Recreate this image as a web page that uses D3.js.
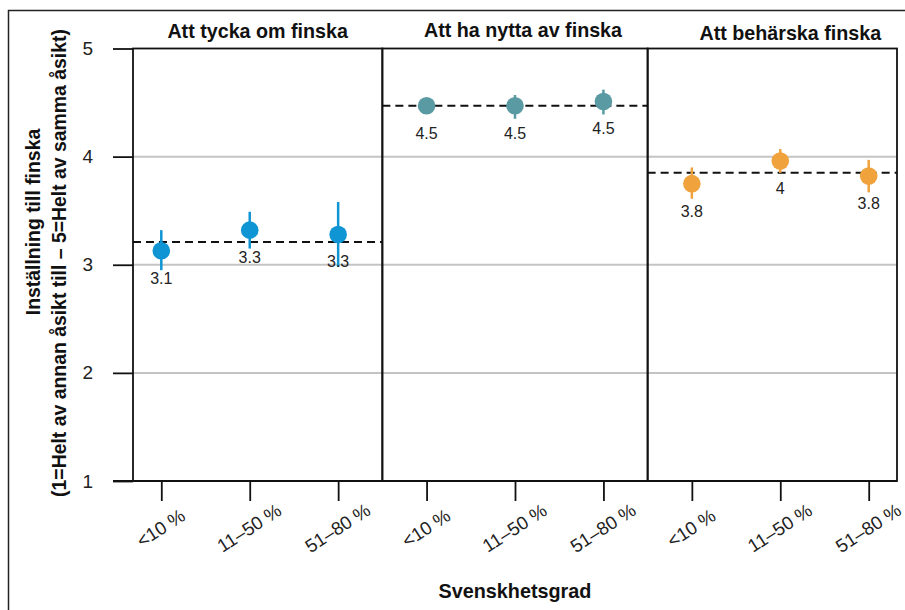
<!DOCTYPE html>
<html>
<head>
<meta charset="utf-8">
<script src="https://cdn.jsdelivr.net/npm/d3@7"></script>
<style>
  html, body { margin: 0; padding: 0; background: #fff; }
  svg { display: block; font-family: "Liberation Sans", Arial, sans-serif; }
</style>
</head>
<body>
<svg id="chart" width="905" height="610"></svg>
<script>
// Facet titles (one per panel) and the x categories repeated in each panel
const panels = ["Att tycka om finska", "Att ha nytta av finska", "Att behärska finska"];
const categories = ["<10 %", "11–50 %", "51–80 %"];

// Means with confidence intervals, one array per panel
const tyckaMean  = [3.13, 3.32, 3.28];
const tyckaLow   = [2.95, 3.15, 2.98];
const tyckaHigh  = [3.32, 3.49, 3.58];

const nyttaMean  = [4.47, 4.47, 4.51];
const nyttaLow   = [4.40, 4.35, 4.39];
const nyttaHigh  = [4.54, 4.57, 4.62];

const beharMean  = [3.75, 3.96, 3.82];
const beharLow   = [3.61, 3.85, 3.67];
const beharHigh  = [3.90, 4.07, 3.97];

// Overall panel mean (dashed reference line)
const panelMeans = [3.21, 4.47, 3.85];

const yTicks = [1, 2, 3, 4, 5];
const panelColors = ["#0f95d3", "#5a9aa3", "#f0a23d"];

const seriesMean = [tyckaMean, nyttaMean, beharMean];
const seriesLow  = [tyckaLow, nyttaLow, beharLow];
const seriesHigh = [tyckaHigh, nyttaHigh, beharHigh];

const W = 905, H = 610;
const margin = { left: 133, right: 8, top: 48.5, bottom: 129 };

const svg = d3.select("#chart");

// Outer figure frame
svg.append("rect")
  .attr("x", 8.5).attr("y", 10.5)
  .attr("width", W + 20).attr("height", H + 20)
  .attr("fill", "none").attr("stroke", "#222").attr("stroke-width", 1.5);

// One continuous position scale: slot i = panel*3 + category + 1
const x = d3.scaleLinear().domain([0.68, 9.32]).range([margin.left, W - margin.right]);
const y = d3.scaleLinear().domain([1, 5]).range([H - margin.bottom, margin.top]);

const rows = [];
panels.forEach((p, pi) => {
  categories.forEach((c, ci) => {
    rows.push({
      panel: pi, cat: c, slot: pi * 3 + ci + 1,
      mean: seriesMean[pi][ci], low: seriesLow[pi][ci], high: seriesHigh[pi][ci],
      color: panelColors[pi]
    });
  });
});

const fmt = d3.format(".2~g");

// Horizontal grid lines
svg.append("g").selectAll("line")
  .data(yTicks.filter(t => t > 1 && t < 5))
  .join("line")
  .attr("x1", x.range()[0]).attr("x2", x.range()[1])
  .attr("y1", d => y(d)).attr("y2", d => y(d))
  .attr("stroke", "#c4c4c4").attr("stroke-width", 2);

// Dashed panel means
const bounds = [[0.68, 3.5], [3.5, 6.5], [6.5, 9.32]];
svg.append("g").selectAll("line")
  .data(panelMeans.map((m, i) => ({ m, b: bounds[i] })))
  .join("line")
  .attr("x1", d => x(d.b[0])).attr("x2", d => x(d.b[1]))
  .attr("y1", d => y(d.m)).attr("y2", d => y(d.m))
  .attr("stroke", "#111").attr("stroke-width", 2)
  .attr("stroke-dasharray", "8,5");

// Error bars
svg.append("g").selectAll("line")
  .data(rows)
  .join("line")
  .attr("x1", d => x(d.slot)).attr("x2", d => x(d.slot))
  .attr("y1", d => y(d.low)).attr("y2", d => y(d.high))
  .attr("stroke", d => d.color).attr("stroke-width", 2.5);

// Points
svg.append("g").selectAll("circle")
  .data(rows)
  .join("circle")
  .attr("cx", d => x(d.slot)).attr("cy", d => y(d.mean))
  .attr("r", 8.8)
  .attr("fill", d => d.color);

// Value labels
svg.append("g").selectAll("text")
  .data(rows)
  .join("text")
  .attr("x", d => x(d.slot)).attr("y", d => y(d.mean) + 33)
  .attr("text-anchor", "middle")
  .attr("font-size", 16)
  .attr("fill", "#222")
  .text(d => fmt(d.mean));

// Panel frames
svg.append("g").selectAll("rect")
  .data(bounds)
  .join("rect")
  .attr("x", d => x(d[0])).attr("y", y(5))
  .attr("width", d => x(d[1]) - x(d[0])).attr("height", y(1) - y(5))
  .attr("fill", "none").attr("stroke", "#111").attr("stroke-width", 1.8);

// Panel titles
const titleShift = [0, 8, 18];
svg.append("g").selectAll("text")
  .data(panels)
  .join("text")
  .attr("x", (d, i) => (x(bounds[i][0]) + x(bounds[i][1])) / 2 + titleShift[i])
  .attr("y", (d, i) => [38, 37, 40][i])
  .attr("text-anchor", "middle")
  .attr("font-size", 19.7).attr("font-weight", "bold")
  .attr("fill", "#111")
  .text(d => d);

// Y axis (ticks only)
const yAxis = svg.append("g")
  .attr("transform", `translate(${margin.left},0)`)
  .call(d3.axisLeft(y).tickValues(yTicks).tickSize(20).tickPadding(20).tickFormat(d3.format("d")));
yAxis.select(".domain").remove();
yAxis.selectAll(".tick line").attr("stroke", "#111").attr("stroke-width", 1.8);
yAxis.selectAll(".tick text")
  .attr("font-size", 19).attr("fill", "#222")
  .attr("font-family", null);

// X axis
const xAxis = svg.append("g")
  .attr("transform", `translate(0,${y(1)})`)
  .call(d3.axisBottom(x).tickValues(d3.range(1, 10)).tickSize(20)
    .tickFormat(i => categories[(i - 1) % 3]));
xAxis.select(".domain")
  .attr("d", `M${margin.left - 20},0H${x.range()[1]}`)
  .attr("stroke", "#111").attr("stroke-width", 1.8);
xAxis.selectAll(".tick line").attr("stroke", "#111").attr("stroke-width", 1.8);
xAxis.selectAll(".tick text")
  .attr("font-size", 18.6).attr("fill", "#222")
  .attr("font-family", null)
  .attr("text-anchor", "middle")
  .attr("y", 0).attr("dy", "0.35em")
  .attr("transform", "translate(-1,47) rotate(-33)");

// Axis titles
svg.append("text")
  .attr("x", (x.range()[0] + x.range()[1]) / 2).attr("y", 598)
  .attr("text-anchor", "middle")
  .attr("font-size", 19.8).attr("font-weight", "bold").attr("fill", "#111")
  .text("Svenskhetsgrad");

svg.append("text")
  .attr("transform", "translate(40,222) rotate(-90)")
  .attr("text-anchor", "middle")
  .attr("font-size", 19.4).attr("font-weight", "bold").attr("fill", "#111")
  .text("Inställning till finska");

svg.append("text")
  .attr("transform", "translate(66,263) rotate(-90)")
  .attr("text-anchor", "middle")
  .attr("font-size", 19.4).attr("font-weight", "bold").attr("fill", "#111")
  .text("(1=Helt av annan åsikt till – 5=Helt av samma åsikt)");
</script>
</body>
</html>
